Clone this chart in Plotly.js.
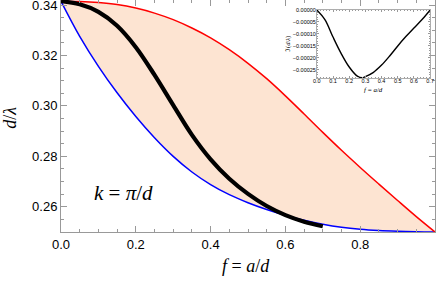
<!DOCTYPE html>
<html>
<head>
<meta charset="utf-8">
<script src="https://cdn.plot.ly/plotly-3.0.1.min.js"></script>
<style>html,body{margin:0;padding:0;background:#fff;}#chart{width:436px;height:281px;}</style>
</head>
<body>
<div id="chart"></div>
<script>
// ---- data ----
var fGrid = [0,0.05,0.1,0.15,0.2,0.25,0.3,0.35,0.4,0.45,0.5,0.55,0.6,0.65,0.7,0.75,0.8,0.85,0.9,0.95,1.0];
var upperRed = [0.3415,0.3414,0.3410,0.3402,0.3388,0.3368,0.3342,0.3309,0.3270,0.3223,0.3169,0.3108,0.3040,0.2968,0.2895,0.2824,0.2756,0.2690,0.2625,0.2561,0.2500];
var lowerBlue = [0.3415,0.3276,0.3157,0.3052,0.2958,0.2874,0.2800,0.2738,0.2688,0.2648,0.2616,0.2589,0.2566,0.2547,0.2531,0.2519,0.2511,0.2506,0.2503,0.2501,0.2500];
var fBlack = [0,0.05,0.1,0.15,0.2,0.25,0.3,0.35,0.4,0.45,0.5,0.55,0.6,0.65,0.7];
var blackCurve = [0.3415,0.3403,0.3373,0.3318,0.3233,0.3123,0.3003,0.2885,0.2788,0.2711,0.2651,0.2603,0.2567,0.2541,0.2523];
var fInset = [0,0.05,0.1,0.15,0.2,0.25,0.28,0.3,0.35,0.4,0.45,0.5,0.55,0.6,0.65,0.7];
var imInset = [0,-0.000040,-0.000113,-0.000181,-0.000238,-0.000276,-0.000283,-0.000278,-0.000260,-0.000230,-0.000192,-0.000150,-0.000111,-0.000075,-0.000040,0];
var xTickVals = [0,0.2,0.4,0.6,0.8];
var yTickVals = [0.26,0.28,0.30,0.32,0.34];
var insetXTicks = [0,0.1,0.2,0.3,0.4,0.5,0.6,0.7];
var insetYTicks = [0,-0.00005,-0.0001,-0.00015,-0.0002,-0.00025];
var insetYText = ['0.00000','\u22120.00005','\u22120.00010','\u22120.00015','\u22120.00020','\u22120.00025'];

var traces = [
  {x: fGrid, y: lowerBlue, type:'scatter', mode:'lines', line:{color:'#0000ff', width:1.5, shape:'spline', smoothing:1}, hoverinfo:'skip'},
  {x: fGrid, y: upperRed, type:'scatter', mode:'lines', line:{color:'#ff0000', width:1.5, shape:'spline', smoothing:1}, fill:'tonexty', fillcolor:'rgba(253,228,210,1)', hoverinfo:'skip'},
  {x: fBlack, y: blackCurve, type:'scatter', mode:'lines', line:{color:'#000000', width:4.2, shape:'spline'}, hoverinfo:'skip'},
  {x: fInset, y: imInset, type:'scatter', mode:'lines', line:{color:'#000000', width:1.4, shape:'spline'}, xaxis:'x2', yaxis:'y2', hoverinfo:'skip'}
];

var axCol = '#999999';
var layout = {
  width: 436, height: 281,
  margin: {l:61, r:1, t:0, b:49, pad:0},
  paper_bgcolor:'#ffffff', plot_bgcolor:'#ffffff',
  showlegend:false,
  font:{family:'Liberation Sans, Arial, sans-serif', color:'#000'},
  xaxis: {
    range:[0,1], tickvals:xTickVals, ticktext:xTickVals.map(function(v){return v.toFixed(1);}),
    ticks:'inside', ticklen:6, tickcolor:axCol, showline:true, linecolor:axCol, linewidth:1, mirror:'ticks',
    showgrid:false, zeroline:false, tickfont:{size:13, family:'Liberation Sans, Arial'},
    minor:{dtick:0.05, ticks:'inside', ticklen:3, tickcolor:axCol, showgrid:false},
    domain:[0,1], anchor:'y'
  },
  yaxis: {
    range:[0.25,0.342], tickvals:yTickVals, ticktext:yTickVals.map(function(v){return v.toFixed(2);}),
    ticks:'inside', ticklen:6, tickcolor:axCol, showline:true, linecolor:axCol, linewidth:1, mirror:'ticks',
    showgrid:false, zeroline:false, tickfont:{size:13, family:'Liberation Sans, Arial'},
    ticklabeloverflow:'allow',
    minor:{dtick:0.005, ticks:'inside', ticklen:3, tickcolor:axCol, showgrid:false},
    domain:[0,1], anchor:'x'
  },
  xaxis2: {
    domain:[0.684,0.987], anchor:'y2', range:[0,0.7], tickvals:insetXTicks,
    ticktext:insetXTicks.map(function(v){return v.toFixed(1);}),
    ticks:'inside', ticklen:2, tickcolor:axCol, showline:true, linecolor:axCol, linewidth:0.8, mirror:'ticks',
    showgrid:false, zeroline:false, tickfont:{size:5.5}, ticklabelstandoff:-3,
    minor:{dtick:0.02, ticks:'inside', ticklen:1, tickcolor:axCol}
  },
  yaxis2: {
    domain:[0.6625,0.957], anchor:'x2', range:[-0.000285,0], tickvals:insetYTicks, ticktext:insetYText,
    ticks:'inside', ticklen:2, tickcolor:axCol, showline:true, linecolor:axCol, linewidth:0.8, mirror:'ticks',
    showgrid:false, zeroline:false, tickfont:{size:5.5}, ticklabelstandoff:-1,
    minor:{dtick:0.00001, ticks:'inside', ticklen:1, tickcolor:axCol}
  },
  annotations: [
    {xref:'paper', yref:'paper', x:0.4947, y:-0.1466, text:'<i>f</i> = <i>a</i>/<i>d</i>', showarrow:false,
     font:{family:'Liberation Serif, Times New Roman, serif', size:18, color:'#000'}, xanchor:'center', yanchor:'middle'},
    {xref:'paper', yref:'paper', x:-0.135, y:0.49, text:'<i>d</i>/<i>λ</i>', showarrow:false, textangle:-90,
     font:{family:'Liberation Serif, Times New Roman, serif', size:18, color:'#000'}, xanchor:'center', yanchor:'middle'},
    {xref:'x', yref:'y', x:0.166, y:0.2655, text:'<i>k</i> = <i>π</i>/<i>d</i>', showarrow:false,
     font:{family:'Liberation Serif, Times New Roman, serif', size:21, color:'#000'}, xanchor:'center', yanchor:'middle'},
    {xref:'x2', yref:'paper', x:0.35, y:(232-90)/232, text:'<i>f</i> = <i>a</i>/<i>d</i>', showarrow:false,
     font:{family:'Liberation Serif, Times New Roman, serif', size:7, color:'#000'}, xanchor:'center', yanchor:'middle'},
    {xref:'paper', yref:'paper', x:(288-61)/374, y:(232-44)/232, text:'ℑ(<i>d</i>/<i>λ</i>)', showarrow:false, textangle:-90,
     font:{family:'Liberation Serif, Times New Roman, serif', size:6.5, color:'#000'}, xanchor:'center', yanchor:'middle'}
  ]
};

Plotly.newPlot('chart', traces, layout, {staticPlot:true, displayModeBar:false});
</script>
</body>
</html>
